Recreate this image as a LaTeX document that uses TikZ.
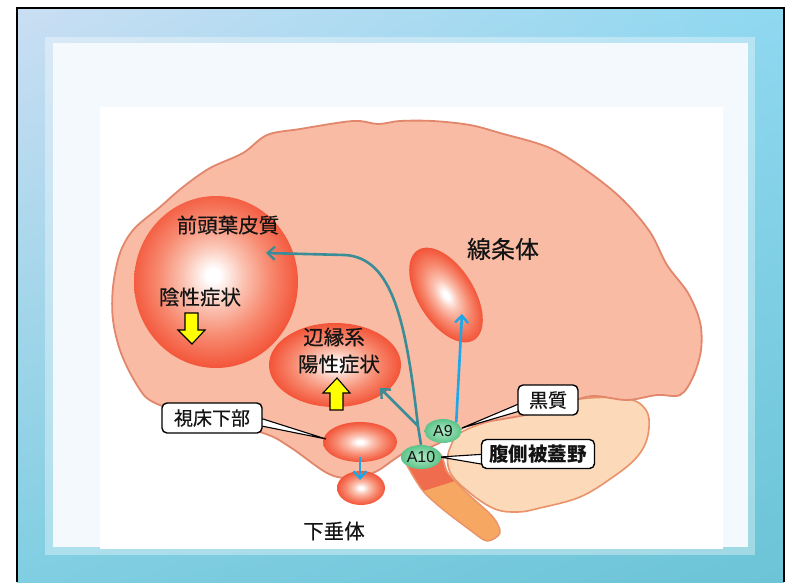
\documentclass[tikz,border=0pt]{standalone}
\usepackage{fontspec}
\setmainfont{Noto Sans CJK JP}
\newfontfamily\jpmed{Noto Sans CJK JP}[FakeBold=0.4]
\newfontfamily\latin{Liberation Sans}
\usetikzlibrary{arrows.meta,shapes.geometric,calc,shadings}

\definecolor{inkblack}{RGB}{20,20,20}
\definecolor{brainfill}{RGB}{249,187,164}
\definecolor{brainedge}{RGB}{226,134,108}
\definecolor{cerebfill}{RGB}{252,217,184}
\definecolor{cerebedge}{RGB}{234,146,106}
\definecolor{stemdark}{RGB}{240,108,78}
\definecolor{stemlight}{RGB}{246,168,98}
\definecolor{glowred}{RGB}{243,84,56}
\definecolor{glowpink}{RGB}{251,196,180}
\definecolor{glowsalmon}{RGB}{247,138,112}
\definecolor{pathteal}{RGB}{58,140,150}
\definecolor{pathblue}{RGB}{27,167,232}
\definecolor{dopaouter}{RGB}{92,196,138}
\definecolor{dopainner}{RGB}{178,234,198}
\definecolor{panelwhite}{RGB}{243,249,252}
\definecolor{arrowyellow}{RGB}{255,255,0}
\definecolor{frameUL}{RGB}{202,222,243}
\definecolor{frameUR}{RGB}{142,216,240}
\definecolor{frameLL}{RGB}{128,206,226}
\definecolor{frameLR}{RGB}{108,196,214}

% glowing nuclei: white core fading to red at the rim
\pgfdeclareradialshading{glowmid}{\pgfpoint{0bp}{0bp}}{color(0bp)=(white); color(2bp)=(white); color(8bp)=(glowpink); color(16bp)=(glowsalmon); color(25bp)=(glowred); color(50bp)=(glowred)}
\pgfdeclareradialshading{glowfront}{\pgfpoint{-1bp}{2bp}}{color(0bp)=(white); color(2bp)=(white); color(9bp)=(glowpink); color(17bp)=(glowsalmon); color(26bp)=(glowred); color(50bp)=(glowred)}

\pgfdeclarelayer{brainlayer}
\pgfdeclarelayer{links}
\pgfsetlayers{brainlayer,links,main}

\tikzset{
  label/.style={text=inkblack, inner sep=0pt, font=\jpmed\fontsize{20.5}{20.5}\selectfont},
  bigger/.style={text=inkblack, inner sep=0pt, font=\jpmed\fontsize{24}{24}\selectfont},
  callout/.style={draw=black, line width=1.4pt, fill=white, rounded corners=5pt,
                  text=inkblack, inner sep=0pt, font=\jpmed\fontsize{19}{19}\selectfont},
  tail/.style={draw=black, line width=1.1pt, fill=white, line join=miter},
  dopa/.style={ellipse, inner sep=0pt, shading=radial, inner color=dopainner,
               outer color=dopaouter, text=inkblack, font=\latin\fontsize{16}{16}\selectfont},
  tealpath/.style={draw=pathteal, line width=2.6pt, -{Straight Barb[length=7pt,width=13pt,line width=2.4pt]}},
  bluepath/.style={draw=pathblue, line width=2.6pt, -{Straight Barb[length=7pt,width=13pt,line width=2.4pt]}},
  updown/.style={fill=arrowyellow, draw=black, line width=1.1pt, line join=miter},
}

\begin{document}
\begin{tikzpicture}[x=1pt,y=-1pt]
\useasboundingbox (0,0) rectangle (787,582);

\begin{pgfonlayer}{brainlayer}
  % slide frame
  \shade[upper left=frameUL, upper right=frameUR,
         lower left=frameLL, lower right=frameLR]
    (17,8) rectangle (784,582);
  \fill[white, opacity=0.35] (45,37) rectangle (755,555);
  \fill[panelwhite] (53,43) rectangle (748,547);
  \fill[white] (100,107) rectangle (723,549);
  \draw[black, line width=2.4pt] (17,582) -- (17,8) -- (784,8) -- (784,582);

  % cerebellum
  \draw[fill=cerebfill, draw=cerebedge, line width=1.6pt]
    plot[smooth cycle, tension=0.6] coordinates {
      (470,428) (560,402) (622,398) (646,410) (648,435) (637,457)
      (613,477) (580,497) (540,508) (518,512) (495,509) (470,493)
      (450,472) (450,448)};

  % brainstem
  \draw[fill=stemlight, draw=cerebedge, line width=1.4pt]
    plot[smooth cycle, tension=0.5] coordinates {
      (403,452) (420,487) (440,507) (470,530) (487,541) (500,533)
      (493,517) (467,493) (448,473) (438,452)};
  \begin{scope}
    \clip (380,430) -- (470,430) -- (470,478) -- (455,481) -- (423,491)
      -- (380,480) -- cycle;
    \fill[stemdark]
      plot[smooth cycle, tension=0.5] coordinates {
        (404,452) (421,487) (441,507) (470,529) (487,540) (499,533)
        (492,517) (466,493) (447,473) (437,452)};
  \end{scope}

  % cerebrum
  \draw[fill=brainfill, draw=brainedge, line width=1.8pt]
    plot[smooth cycle, tension=0.55] coordinates {
      (160,207) (183,187) (210,168) (243,153) (267,135) (300,129)
      (353,121) (378,124) (400,121) (433,121) (470,125) (500,133)
      (550,148) (590,173) (623,200) (650,232) (667,265) (688,293)
      (700,322) (701,350) (693,377) (680,395) (657,395) (627,400)
      (593,396) (567,403) (530,414) (480,423) (463,428) (445,440)
      (425,449) (408,451) (396,458) (375,472) (350,478) (327,473)
      (290,447) (263,433) (200,418) (153,402) (137,385) (121,353)
      (113,320) (113,287) (120,253) (134,229)};

  % glowing regions
  \shade[shading=glowfront] (216,282) ellipse [x radius=82, y radius=86];
  \shade[shading=glowmid] (335,365) ellipse [x radius=66, y radius=42];
  \begin{scope}[transform canvas={shift={(446pt,-295pt)}, rotate=-58}]
    \shade[shading=glowmid] (0,0) ellipse [x radius=53, y radius=28];
  \end{scope}
  \shade[shading=glowmid] (360,442) ellipse [x radius=37, y radius=20];
  \shade[shading=glowmid] (361,488) ellipse [x radius=24, y radius=17];
\end{pgfonlayer}

% dopamine nuclei
\node[dopa, minimum width=37pt, minimum height=24pt] (a9) at (443,431) {A9};
\node[dopa, minimum width=40pt, minimum height=24pt] (a10) at (421,457) {A10};

% targets of the projections
\coordinate (junc) at (418,426);
\coordinate (pfctip) at (266,253);
\coordinate (limtip) at (380,388);
\coordinate (strtip) at (462,314);
\coordinate (hypout) at (360,457);
\coordinate (pittip) at (360,480);

% text labels
\node[label] (pfc) at (228,225) {前頭葉皮質};
\node[label] (neg) at (200,297) {陰性症状};
\node[label] (lim) at (334,337) {辺縁系};
\node[label] (pos) at (339,364) {陽性症状};
\node[bigger] (str) at (503,249) {線条体};
\node[label] (pit) at (334,531) {下垂体};

% symptom arrows
\draw[updown] (185,313) -- (198,313) -- (198,330) -- (205,330) -- (192,344)
  -- (178,330) -- (185,330) -- cycle;
\draw[updown] (337,378) -- (350,393) -- (343,393) -- (343,410) -- (330,410)
  -- (330,393) -- (323,393) -- cycle;

% callouts
\node[callout, minimum width=100pt, minimum height=30pt] (hyp) at (212,418) {視床下部};
\node[callout, minimum width=60pt, minimum height=30pt] (sn) at (548,400) {黒質};
\node[callout, minimum width=113pt, minimum height=29pt, font=\bfseries\fontsize{19.5}{19.5}\selectfont] (vta) at (538,454) {腹側被蓋野};

\begin{pgfonlayer}{links}
  % callout tails
  \draw[tail] ($(hyp.east)+(-6,-1)$) -- (326,439) -- ($(hyp.east)+(-6,7)$) -- cycle;
  \draw[tail] ($(sn.west)+(6,2)$) -- (462,428) -- ($(sn.west)+(6,10)$) -- cycle;
  \draw[tail] ($(vta.west)+(6,0)$) -- (440,457) -- ($(vta.west)+(6,11)$) -- cycle;

  % dopaminergic projections
  \draw[tealpath] (a10.north) -- (junc) .. controls (406,322) and (393,258) .. (345,255) -- (pfctip);
  \draw[tealpath] (junc) -- (limtip);
  \draw[bluepath] (a9.north east) -- (strtip);
  \draw[bluepath, line width=2.2pt] (hypout) -- (pittip);
\end{pgfonlayer}
\end{tikzpicture}
\end{document}
